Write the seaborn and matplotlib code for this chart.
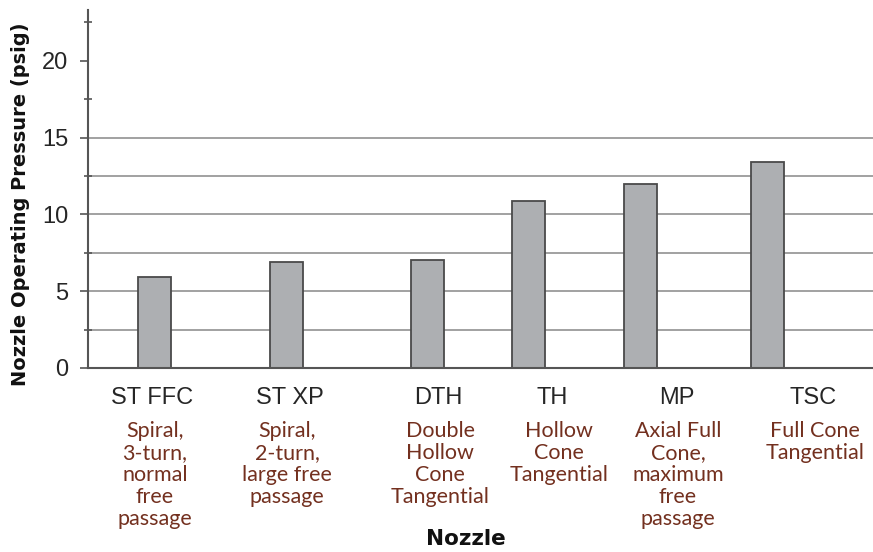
import numpy as np
import matplotlib
matplotlib.use("Agg")
import matplotlib.pyplot as plt
import seaborn as sns

# ---- data ----
nozzles = ["ST FFC", "ST XP", "DTH", "TH", "MP", "TSC"]
pressure = [5.9, 6.9, 7.0, 10.9, 12.0, 13.4]
descriptions = [
    "Spiral,\n3-turn,\nnormal\nfree\npassage",
    "Spiral,\n2-turn,\nlarge free\npassage",
    "Double\nHollow\nCone\nTangential",
    "Hollow\nCone\nTangential",
    "Axial Full\nCone,\nmaximum\nfree\npassage",
    "Full Cone\nTangential",
]
y_major = [0, 5, 10, 15, 20]
y_minor = [2.5, 7.5, 12.5, 17.5, 22.5]
grid_levels = [2.5, 5, 7.5, 10, 12.5, 15]

# ---- layout (x in units of 100 px from the y axis) ----
bar_pos = [0.667, 1.98, 3.397, 4.402, 5.52, 6.792]
label_pos = [0.64, 2.02, 3.50, 4.64, 5.89, 7.25]
desc_pos = [0.67, 1.99, 3.52, 4.71, 5.90, 7.27]

sns.set_style("white")
plt.rcParams["font.family"] = ["Liberation Sans", "DejaVu Sans"]

fig = plt.figure(figsize=(8.73, 5.52), dpi=100)
ax = fig.add_axes([88 / 873, 1 - 368 / 552, 785 / 873, 358 / 552])

for g in grid_levels:
    ax.axhline(g, color="#9a9a9a", lw=1.3, zorder=0)

bar_width = 0.33 / np.min(np.diff(bar_pos))
sns.barplot(x=bar_pos, y=pressure, native_scale=True, orient="x",
            width=bar_width, color="#adafb2", saturation=1,
            edgecolor="#4a4a4a", linewidth=1.3, ax=ax, zorder=2)

ax.set_xlim(0, 7.85)
ax.set_ylim(0, 23.3)

ax.set_yticks(y_major)
ax.set_yticklabels([str(v) for v in y_major], fontsize=17)
ax.set_yticks(y_minor, minor=True)
ax.tick_params(axis="y", which="major", direction="out", length=6,
               width=1.2, color="#555555", pad=8, left=True)
ax.tick_params(axis="y", which="minor", direction="inout", length=6,
               width=1.2, color="#555555", left=True)

ax.set_xticks(label_pos)
ax.set_xticklabels(nozzles, fontsize=17)
ax.tick_params(axis="x", length=0, pad=14)

for sp in ["top", "right"]:
    ax.spines[sp].set_visible(False)
for sp in ["left", "bottom"]:
    ax.spines[sp].set_color("#555555")
    ax.spines[sp].set_linewidth(1.5)

for xp, d in zip(desc_pos, descriptions):
    ax.annotate(d, xy=(xp, 0), xycoords="data", xytext=(0, -53),
                textcoords="offset pixels", ha="center", va="top",
                fontsize=15.5, color="#73301f", family=["Lato", "DejaVu Sans"],
                linespacing=1.12, annotation_clip=False)

ax.set_xlabel("Nozzle", fontsize=15.5, fontweight="bold",
              family=["DejaVu Sans"], color="#111111")
ax.xaxis.set_label_coords(3.78 / 7.85, -0.477)
ax.xaxis.label.set_va("center")
ax.set_ylabel("Nozzle Operating Pressure (psig)", fontsize=14,
              fontweight="bold", family=["DejaVu Sans"], color="#111111")
ax.yaxis.set_label_coords(-0.0866, 0.458)
ax.yaxis.label.set_va("center")

fig.savefig("out.png", dpi=100)
